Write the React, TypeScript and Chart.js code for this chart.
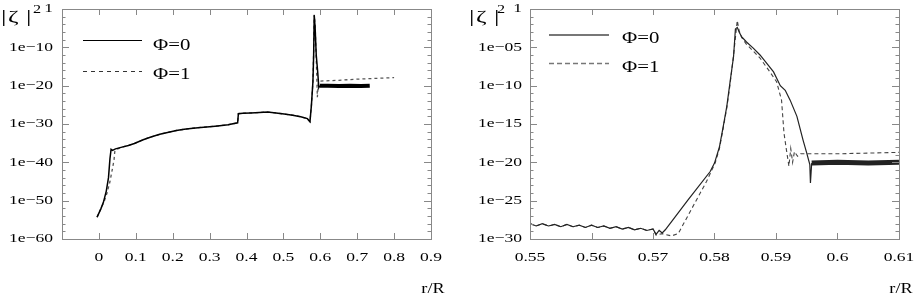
import React, { useEffect, useRef } from 'react';
import { Chart, registerables } from 'chart.js';

Chart.register(...registerables);

// ---------- Left panel data (r/R, |zeta|^2) ----------
const LEFT_R_PHI0 = [
  -0.005, 0.005, 0.012, 0.02, 0.026, 0.03, 0.033, 0.037, 0.045, 0.06, 0.08, 0.096, 0.12, 0.141,
  0.165, 0.186, 0.21, 0.231, 0.255, 0.276, 0.3, 0.322, 0.35, 0.376, 0.378, 0.39, 0.412, 0.435,
  0.457, 0.48, 0.502, 0.525, 0.547, 0.565, 0.572, 0.576, 0.58, 0.582, 0.5835, 0.586, 0.589,
  0.593, 0.596, 0.599, 0.62, 0.65, 0.68, 0.71, 0.734,
];
const LEFT_Z_PHI0 = [
  5e-55, 6.3e-53, 3.2e-51, 3.2e-48, 1e-44, 1e-39, 2.5e-37, 1.3e-37, 3.2e-37, 7.9e-37, 2.5e-36,
  7.9e-36, 7.9e-35, 4e-34, 2e-33, 6.3e-33, 2e-32, 4e-32, 7.9e-32, 1.3e-31, 2e-31, 3.2e-31,
  6.3e-31, 2e-30, 5e-28, 6.3e-28, 7.9e-28, 1e-27, 1.3e-27, 7.9e-28, 4e-28, 2e-28, 7.9e-29,
  2.5e-29, 4e-30, 1e-25, 1e-19, 1e-12, 2.5e-2, 1e-5, 1e-12, 3.2e-17, 3.2e-21, 1e-20, 1e-20,
  7.9e-21, 1e-20, 7.9e-21, 1e-20,
];
const LEFT_R_PHI1 = [
  -0.005, 0.008, 0.014, 0.022, 0.03, 0.037, 0.041, 0.043, 0.046, 0.06, 0.08, 0.096, 0.12, 0.141,
  0.165, 0.186, 0.21, 0.231, 0.255, 0.276, 0.3, 0.322, 0.35, 0.376, 0.378, 0.39, 0.412, 0.435,
  0.457, 0.48, 0.502, 0.525, 0.547, 0.565, 0.572, 0.576, 0.58, 0.582, 0.5835, 0.586, 0.588,
  0.59, 0.592, 0.595, 0.6, 0.65, 0.7, 0.75, 0.8,
];
const LEFT_Z_PHI1 = [
  5e-55, 3.2e-52, 5e-51, 1e-48, 1e-45, 3.2e-42, 4e-40, 6.3e-38, 2e-37, 7.9e-37, 2.5e-36,
  7.9e-36, 7.9e-35, 4e-34, 2e-33, 6.3e-33, 2e-32, 4e-32, 7.9e-32, 1.3e-31, 2e-31, 3.2e-31,
  6.3e-31, 2e-30, 5e-28, 6.3e-28, 7.9e-28, 1e-27, 1.3e-27, 7.9e-28, 4e-28, 2e-28, 7.9e-29,
  2.5e-29, 4e-30, 1e-25, 1e-19, 1e-11, 3.2e-2, 1e-4, 1e-10, 1e-16, 1e-23, 1e-19, 1.6e-19,
  2.5e-19, 5e-19, 7.9e-19, 1.3e-18,
];
const LEFT_X_TICKS = [0, 0.1, 0.2, 0.3, 0.4, 0.5, 0.6, 0.7, 0.8, 0.9];
const LEFT_X_LABELS = ['0', '0.1', '0.2', '0.3', '0.4', '0.5', '0.6', '0.7', '0.8', '0.9'];
const LEFT_Y_TICKS = [1e-60, 1e-50, 1e-40, 1e-30, 1e-20, 1e-10, 1];
const LEFT_Y_LABELS = ['1e\u221260', '1e\u221250', '1e\u221240', '1e\u221230', '1e\u221220', '1e\u221210', '1'];

// ---------- Right panel data (zoom on 0.55 - 0.61) ----------
const RIGHT_R_PHI0 = [
  0.55, 0.551, 0.552, 0.553, 0.554, 0.555, 0.556, 0.557, 0.558, 0.559, 0.56, 0.561, 0.562, 0.563,
  0.564, 0.565, 0.566, 0.567, 0.568, 0.569, 0.57, 0.5705, 0.571, 0.5715, 0.572, 0.5757, 0.5793,
  0.58, 0.5808, 0.5814, 0.582, 0.5825, 0.5831, 0.5834, 0.5837, 0.584, 0.5844, 0.5852, 0.5863,
  0.5874, 0.5885, 0.5896, 0.5907, 0.5915, 0.5923, 0.5934, 0.5944, 0.595, 0.5955, 0.5956, 0.5958,
  0.6, 0.605, 0.61,
];
const RIGHT_Z_PHI0 = [
  1e-28, 5e-29, 1e-28, 5e-29, 7.9e-29, 4e-29, 7.9e-29, 4e-29, 6.3e-29, 3.2e-29, 6.3e-29, 3.2e-29,
  5e-29, 2.5e-29, 4e-29, 2e-29, 3.2e-29, 1.6e-29, 2.5e-29, 1.3e-29, 2e-29, 4e-30, 1.3e-29,
  6.3e-30, 1.6e-29, 1.3e-25, 6.3e-22, 7.9e-21, 1e-18, 4e-16, 2e-13, 2e-10, 6.3e-7, 2.5e-3, 4e-3,
  1e-3, 2.5e-4, 5e-5, 7.9e-6, 1e-6, 7.9e-8, 6.3e-9, 1e-10, 2.5e-11, 1.3e-12, 1e-14, 7.9e-18,
  1.6e-19, 5e-21, 2e-23, 7.9e-21, 1e-20, 7.9e-21, 1e-20,
];
const RIGHT_R_PHI1 = [
  0.55, 0.551, 0.552, 0.553, 0.554, 0.555, 0.556, 0.557, 0.558, 0.559, 0.56, 0.561, 0.562, 0.563,
  0.564, 0.565, 0.566, 0.567, 0.568, 0.569, 0.57, 0.5705, 0.5715, 0.573, 0.5741, 0.5787, 0.5801,
  0.5808, 0.5814, 0.582, 0.5825, 0.5831, 0.5837, 0.584, 0.5844, 0.5852, 0.5863, 0.5874, 0.589,
  0.5901, 0.5909, 0.5913, 0.5917, 0.5921, 0.5924, 0.5927, 0.593, 0.5935, 0.594, 0.6, 0.61,
];
const RIGHT_Z_PHI1 = [
  1e-28, 5e-29, 1e-28, 5e-29, 7.9e-29, 4e-29, 7.9e-29, 4e-29, 6.3e-29, 3.2e-29, 6.3e-29, 3.2e-29,
  5e-29, 2.5e-29, 4e-29, 2e-29, 3.2e-29, 1.6e-29, 2.5e-29, 1.3e-29, 2e-29, 3.2e-30, 5e-30,
  2.5e-30, 5e-30, 3.2e-23, 7.9e-21, 6.3e-19, 2.5e-16, 1.3e-13, 1e-10, 1e-6, 3.2e-2, 1.6e-3,
  2e-4, 2.5e-5, 3.2e-6, 4e-7, 6.3e-9, 3.2e-10, 1.3e-12, 6.3e-17, 4e-19, 3.2e-21, 6.3e-19, 1e-20,
  2.5e-19, 6.3e-20, 1.3e-19, 1.3e-19, 2e-19,
];
const RIGHT_X_TICKS = [0.55, 0.56, 0.57, 0.58, 0.59, 0.6, 0.61];
const RIGHT_X_LABELS = ['0.55', '0.56', '0.57', '0.58', '0.59', '0.6', '0.61'];
const RIGHT_Y_TICKS = [1e-30, 1e-25, 1e-20, 1e-15, 1e-10, 1e-5, 1];
const RIGHT_Y_LABELS = ['1e\u221230', '1e\u221225', '1e\u221220', '1e\u221215', '1e\u221210', '1e\u221205', '1'];

const SERIES_NAMES = ['\u03A6=0', '\u03A6=1'];
const FONT = '"Liberation Serif", "Times New Roman", serif';
const FRAME = '#888888';

function zip(xs: number[], ys: number[]) {
  return xs.map((x, i) => ({ x, y: ys[i] }));
}

function stretchText(ctx: CanvasRenderingContext2D, text: string, x: number, y: number,
  align: CanvasTextAlign, size: number, sx: number) {
  ctx.save();
  ctx.translate(x, y);
  ctx.scale(sx, 1);
  ctx.font = `${size}px ${FONT}`;
  ctx.fillStyle = '#000';
  ctx.textAlign = align;
  ctx.textBaseline = 'middle';
  ctx.fillText(text, 0, 0);
  ctx.restore();
}

function makeDecor(p: any) {
  return {
    id: 'decor',
    afterDraw(chart: any) {
      const { ctx, chartArea: a } = chart;
      const xs = chart.scales.x;
      const ys = chart.scales.y;
      ctx.save();
      ctx.strokeStyle = FRAME;
      ctx.lineWidth = 1;
      ctx.setLineDash([]);
      ctx.strokeRect(a.left + 0.5, a.top + 0.5, a.right - a.left, a.bottom - a.top);
      ctx.beginPath();
      // minor y ticks
      for (let e = p.yMinExp; e <= p.yMaxExp; e += p.yMinorStep) {
        const py = Math.round(ys.getPixelForValue(Math.pow(10, e))) + 0.5;
        ctx.moveTo(a.left, py); ctx.lineTo(a.left + 3.5, py);
        ctx.moveTo(a.right, py); ctx.lineTo(a.right - 3.5, py);
      }
      // major y ticks
      p.yTicks.forEach((v: number) => {
        const py = Math.round(ys.getPixelForValue(v)) + 0.5;
        ctx.moveTo(a.left, py); ctx.lineTo(a.left + 7, py);
        ctx.moveTo(a.right, py); ctx.lineTo(a.right - 7, py);
      });
      // x ticks
      p.xTicks.forEach((v: number) => {
        const px = Math.round(xs.getPixelForValue(v)) + 0.5;
        ctx.moveTo(px, a.bottom); ctx.lineTo(px, a.bottom - 6);
        ctx.moveTo(px, a.top); ctx.lineTo(px, a.top + 6);
      });
      ctx.stroke();
      // labels
      p.yTicks.forEach((v: number, i: number) => {
        stretchText(ctx, p.yLabels[i], a.left - p.yLabelGap, ys.getPixelForValue(v), 'right', 13, 1.35);
      });
      p.xTicks.forEach((v: number, i: number) => {
        stretchText(ctx, p.xLabels[i], xs.getPixelForValue(v), a.bottom + 18.5, 'center', 13, 1.35);
      });
      // axis titles: |zeta|^2
      const zx = p.zetaX;
      stretchText(ctx, '|', zx, 18, 'left', 17, 1.6);
      stretchText(ctx, '\u03B6', zx + 7, 18, 'left', 17, 1.5);
      stretchText(ctx, '|', zx + 25, 18, 'left', 17, 1.6);
      stretchText(ctx, '2', p.sqX, 10, 'left', 12, 1.35);
      stretchText(ctx, 'r/R', a.right + 2, 289, 'center', 14, 1.3);
      // legend
      const L = p.legend;
      L.rows.forEach((r: any, i: number) => {
        ctx.save();
        ctx.strokeStyle = L.colors[i];
        ctx.lineWidth = L.widths[i];
        ctx.setLineDash(L.dashes[i]);
        ctx.beginPath();
        ctx.moveTo(L.x0, r.y);
        ctx.lineTo(L.x1, r.y);
        ctx.stroke();
        ctx.restore();
        stretchText(ctx, SERIES_NAMES[i], L.textX, r.textY, 'left', 16, 1.3);
      });
      ctx.restore();
    },
  };
}

function buildConfig(p: any): any {
  return {
    type: 'line',
    data: {
      datasets: [
        {
          label: SERIES_NAMES[0],
          data: zip(p.r0, p.z0),
          borderColor: p.c0,
          borderWidth: p.w0,
          pointRadius: 0,
          tension: 0,
          segment: {
            borderWidth: (c: any) => (c.p0.parsed.x >= p.bandStart ? p.bandWidth : undefined),
          },
        },
        {
          label: SERIES_NAMES[1],
          data: zip(p.r1, p.z1),
          borderColor: p.c1,
          borderWidth: p.w1,
          borderDash: p.dash1,
          pointRadius: 0,
          tension: 0,
        },
      ],
    },
    options: {
      animation: false,
      responsive: false,
      events: [],
      layout: { padding: p.padding },
      plugins: { legend: { display: false }, tooltip: { enabled: false }, title: { display: false } },
      scales: {
        x: { type: 'linear', min: p.xMin, max: p.xMax, display: false },
        y: { type: 'logarithmic', min: p.yMin, max: p.yMax, display: false },
      },
    },
    plugins: [makeDecor(p)],
  };
}

const LEFT_PANEL = {
  r0: LEFT_R_PHI0, z0: LEFT_Z_PHI0, r1: LEFT_R_PHI1, z1: LEFT_Z_PHI1,
  c0: '#000000', w0: 1.5, c1: '#555555', w1: 1.3, dash1: [3, 3],
  bandStart: 0.598, bandWidth: 4,
  xMin: -0.1, xMax: 0.9, yMin: 1e-60, yMax: 1,
  yMinExp: -60, yMaxExp: 0, yMinorStep: 2,
  xTicks: LEFT_X_TICKS, xLabels: LEFT_X_LABELS, yTicks: LEFT_Y_TICKS, yLabels: LEFT_Y_LABELS,
  yLabelGap: 9, zetaX: 1, sqX: 33,
  padding: { left: 62, right: 29, top: 9, bottom: 56 },
  legend: {
    x0: 83, x1: 142, textX: 153,
    rows: [{ y: 40.5, textY: 45.5 }, { y: 71.5, textY: 74.5 }],
    colors: ['#000000', '#333333'], widths: [1, 1], dashes: [[], [4, 4]],
  },
};

const RIGHT_PANEL = {
  r0: RIGHT_R_PHI0, z0: RIGHT_Z_PHI0, r1: RIGHT_R_PHI1, z1: RIGHT_Z_PHI1,
  c0: '#222222', w0: 1.2, c1: '#444444', w1: 1.1, dash1: [4, 3],
  bandStart: 0.5957, bandWidth: 5,
  xMin: 0.55, xMax: 0.61, yMin: 1e-30, yMax: 1,
  yMinExp: -30, yMaxExp: 0, yMinorStep: 1,
  xTicks: RIGHT_X_TICKS, xLabels: RIGHT_X_LABELS, yTicks: RIGHT_Y_TICKS, yLabels: RIGHT_Y_LABELS,
  yLabelGap: 8, zetaX: 9, sqX: 37,
  padding: { left: 70, right: 16, top: 9, bottom: 56 },
  legend: {
    x0: 89, x1: 149, textX: 162,
    rows: [{ y: 35, textY: 39 }, { y: 63.5, textY: 67.5 }],
    colors: ['#777777', '#777777'], widths: [2, 1.5], dashes: [[], [5, 3]],
  },
};

export default function App() {
  const leftRef = useRef<HTMLCanvasElement>(null);
  const rightRef = useRef<HTMLCanvasElement>(null);
  useEffect(() => {
    const c1 = new Chart(leftRef.current as HTMLCanvasElement, buildConfig(LEFT_PANEL));
    const c2 = new Chart(rightRef.current as HTMLCanvasElement, buildConfig(RIGHT_PANEL));
    return () => {
      c1.destroy();
      c2.destroy();
    };
  }, []);
  return (
    <div style={{ position: 'absolute', left: 0, top: 0, width: 915, height: 295, background: '#fff' }}>
      <canvas ref={leftRef} width={460} height={295}
        style={{ position: 'absolute', left: 0, top: 0, width: 460, height: 295 }} />
      <canvas ref={rightRef} width={455} height={295}
        style={{ position: 'absolute', left: 460, top: 0, width: 455, height: 295 }} />
    </div>
  );
}
